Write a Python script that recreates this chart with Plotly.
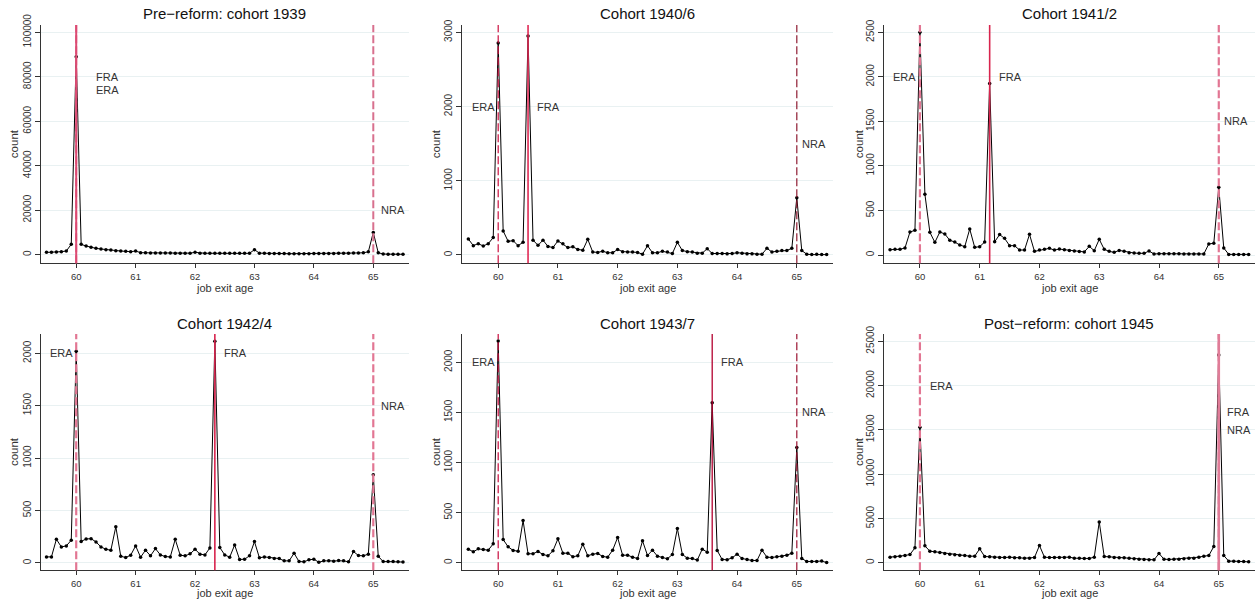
import plotly.graph_objects as go
from plotly.subplots import make_subplots

# job exit age grid: monthly from 59.5 to 65.5
months = list(range(73))
ages = [59.5 + m / 12 for m in months]

c1939 = [1050, 1050, 1200, 1350, 1650, 4650, 89000, 4650, 3900, 3300, 2850, 2550, 2250,
         2100, 1800, 1650, 1500, 1350, 1650, 900, 850, 800, 800, 750, 750, 750, 700, 700,
         700, 700, 1050, 700, 650, 650, 600, 600, 600, 600, 600, 600, 600, 650, 2250, 700,
         600, 550, 500, 500, 500, 450, 450, 450, 450, 450, 500, 500, 500, 550, 550, 600,
         650, 700, 750, 800, 850, 1300, 10000, 900, 300, 250, 250, 200, 200]
c1940 = [216, 126, 153, 121, 153, 234, 2855, 324, 184, 193, 126, 171, 2950, 200, 130, 200,
         115, 100, 190, 150, 100, 110, 75, 65, 211, 40, 35, 50, 30, 30, 75, 45, 40, 40, 35,
         10, 126, 30, 30, 50, 40, 20, 171, 60, 45, 40, 25, 25, 85, 20, 20, 20, 15, 20, 30,
         25, 15, 15, 10, 10, 90, 40, 50, 60, 60, 90, 770, 60, 10, 5, 10, 5, 5]
c1941 = [60, 64, 64, 79, 258, 277, 2500, 682, 255, 142, 258, 236, 165, 146, 112, 94, 292,
         86, 94, 146, 1925, 148, 229, 187, 105, 105, 56, 56, 232, 41, 55, 65, 75, 55, 67,
         60, 52, 45, 40, 35, 97, 49, 176, 64, 41, 30, 52, 41, 26, 22, 19, 19, 45, 11, 15,
         15, 15, 15, 15, 12, 12, 10, 10, 12, 125, 131, 760, 79, 7, 7, 7, 7, 7]
c1942 = [57, 57, 225, 152, 162, 216, 2020, 205, 228, 231, 200, 152, 130, 120, 345, 63, 51,
         73, 162, 54, 121, 67, 136, 76, 60, 57, 225, 73, 67, 86, 130, 83, 76, 143, 2115, 146,
         76, 54, 171, 32, 35, 67, 203, 48, 57, 51, 41, 41, 19, 19, 92, 13, 10, 29, 35, 6, 19,
         19, 16, 22, 19, 10, 108, 70, 67, 83, 840, 63, 12, 12, 12, 10, 8]
c1943 = [136, 109, 139, 133, 126, 189, 2212, 232, 159, 123, 116, 421, 90, 90, 113, 83, 70,
         119, 239, 96, 96, 60, 70, 186, 70, 86, 93, 63, 56, 126, 252, 76, 76, 56, 43, 219,
         73, 126, 66, 53, 40, 83, 342, 83, 46, 43, 27, 136, 106, 1597, 123, 33, 30, 50, 86,
         43, 33, 23, 23, 126, 56, 53, 60, 66, 76, 96, 1150, 43, 13, 13, 13, 17, 2]
c1945 = [638, 675, 750, 826, 938, 1689, 15310, 1914, 1314, 1239, 1164, 1051, 976, 901, 863,
         826, 750, 750, 1576, 713, 675, 638, 600, 600, 638, 563, 563, 525, 525, 600, 1952,
         638, 600, 600, 600, 600, 638, 525, 525, 488, 488, 638, 4617, 713, 675, 600, 563,
         563, 525, 450, 413, 375, 338, 338, 1051, 413, 375, 413, 413, 450, 525, 525, 638,
         750, 826, 1839, 23450, 826, 188, 188, 150, 150, 113]

titles = ["Pre\u2212reform: cohort 1939", "Cohort 1940/6", "Cohort 1941/2",
          "Cohort 1942/4", "Cohort 1943/7", "Post\u2212reform: cohort 1945"]
series = [c1939, c1940, c1941, c1942, c1943, c1945]

era_age = [60, 60, 60, 60, 60, 60]
fra_age = [60, 60.5, 61 + 2 / 12, 62 + 4 / 12, 63 + 7 / 12, 65]
nra_age = [65, 65, 65, 65, 65, 65]

x_ticks = [60, 61, 62, 63, 64, 65]
y_ticks = [[0, 20000, 40000, 60000, 80000, 100000], [0, 1000, 2000, 3000],
           [0, 500, 1000, 1500, 2000, 2500], [0, 500, 1000, 1500, 2000],
           [0, 500, 1000, 1500, 2000], [0, 5000, 10000, 15000, 20000, 25000]]
y_ranges = [[-3870, 103280], [-112, 3098], [-93, 2582], [-70, 2184], [-74, 2282], [-833, 25820]]

# label positions (x, y) per panel
labels = [
    [(60.3, 80000, "FRA"), (60.3, 74000, "ERA"), (65.1, 20000, "NRA")],
    [(59.52, 2000, "ERA"), (60.62, 2000, "FRA"), (65.06, 1500, "NRA")],
    [(59.52, 2000, "ERA"), (61.29, 2000, "FRA"), (65.05, 1500, "NRA")],
    [(59.52, 2000, "ERA"), (62.45, 2000, "FRA"), (65.1, 1500, "NRA")],
    [(59.52, 2000, "ERA"), (63.70, 2000, "FRA"), (65.06, 1500, "NRA")],
    [(60.13, 20000, "ERA"), (65.11, 17000, "FRA"), (65.11, 15000, "NRA")],
]

# line styles: (color, width) for ERA, FRA, NRA
styles = [
    [("#e06a8a", 2), ("#dc4a72", 2), ("#d8708e", 2)],
    [("#cc0f3f", 1.2), ("#e02a55", 1.6), ("#8e1a30", 1.2)],
    [("#e27693", 2.2), ("#d8244e", 1.6), ("#e27693", 2.2)],
    [("#e27693", 2.2), ("#d8244e", 1.6), ("#e27693", 2.2)],
    [("#c80a3c", 1.2), ("#b3002f", 1.3), ("#9a1230", 1.2)],
    [("#e27693", 2.2), ("#e07c98", 2.6), ("#e07c98", 2.2)],
]

W, H = 1257, 600
col_px = [(40.5, 409), (462.3, 832.7), (884, 1254.7)]
row_px = [(25, 263.3), (334, 570.2)]
ytitle_x = [14, 436, 859]
xtitle_y = [287.5, 592.5]

fig = make_subplots(rows=2, cols=3)

font_family = "Liberation Sans, Arial, sans-serif"
txt = "#333"
dash_pat = "8px,3px"

for i in range(6):
    r, c = i // 3, i % 3
    idx = i + 1
    xa = "xaxis" if idx == 1 else f"xaxis{idx}"
    ya = "yaxis" if idx == 1 else f"yaxis{idx}"
    xref = "x" if idx == 1 else f"x{idx}"
    yref = "y" if idx == 1 else f"y{idx}"

    fig.add_trace(go.Scatter(x=ages, y=series[i], mode="lines+markers",
                             line=dict(color="black", width=1),
                             marker=dict(color="black", size=3.5),
                             showlegend=False, hoverinfo="x+y"),
                  row=r + 1, col=c + 1)

    x0, x1 = col_px[c]
    y0, y1 = row_px[r]
    fig.layout[xa].update(domain=[x0 / W, x1 / W], range=[59.399, 65.601], automargin=False,
                          tickvals=x_ticks, ticks="outside", ticklen=4,
                          tickcolor=txt, showline=True, linecolor=txt, linewidth=1,
                          showgrid=False, zeroline=False,
                          tickfont=dict(size=9.5, color=txt, family=font_family))
    fig.layout[ya].update(domain=[1 - y1 / H, 1 - y0 / H], range=y_ranges[i], automargin=False,
                          tickvals=y_ticks[i], tickangle=-90, ticks="outside", ticklen=5,
                          tickcolor=txt, showline=True, linecolor=txt, linewidth=1,
                          showgrid=True, gridcolor="#e9f1f2", gridwidth=1, zeroline=False,
                          tickformat="d",
                          tickfont=dict(size=10, color=txt, family=font_family))

    era_s, fra_s, nra_s = styles[i]
    for age, (col, wd), dsh in [(era_age[i], era_s, dash_pat), (nra_age[i], nra_s, dash_pat),
                                (fra_age[i], fra_s, "solid")]:
        fig.add_shape(type="line", xref=xref, yref=f"{yref} domain", x0=age, x1=age,
                      y0=0, y1=1, line=dict(color=col, width=wd, dash=dsh), layer="above")

    for lx, ly, lt in labels[i]:
        fig.add_annotation(x=lx, y=ly, xref=xref, yref=yref, text=lt, showarrow=False,
                           xanchor="left", yanchor="middle",
                           font=dict(size=11, color=txt, family=font_family))

    # panel title
    fig.add_annotation(x=(x0 + x1) / 2 / W, y=1 - (y0 - 11) / H, xref="paper", yref="paper",
                       text=titles[i], showarrow=False, xanchor="center", yanchor="middle",
                       font=dict(size=15, color="#111", family=font_family))
    # axis titles
    fig.add_annotation(x=(x0 + x1) / 2 / W, y=1 - xtitle_y[r] / H, xref="paper", yref="paper",
                       text="job exit age", showarrow=False, xanchor="center", yanchor="middle",
                       font=dict(size=11, color=txt, family=font_family))
    fig.add_annotation(x=ytitle_x[c] / W, y=1 - (y0 + y1) / 2 / H, xref="paper", yref="paper",
                       text="count", showarrow=False, xanchor="center", yanchor="middle",
                       textangle=-90, font=dict(size=11.5, color=txt, family=font_family))

fig.update_layout(template="none", width=W, height=H, autosize=False,
                  margin=dict(l=0, r=0, t=0, b=0, pad=0),
                  plot_bgcolor="white", paper_bgcolor="white",
                  font=dict(family=font_family))

fig.write_html("out.html")
